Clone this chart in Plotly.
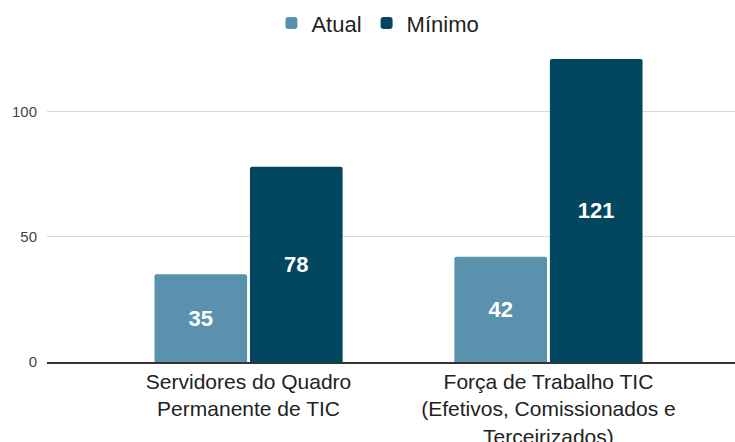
import plotly.graph_objects as go

categories = ["Servidores do Quadro<br>Permanente de TIC",
              "Força de Trabalho TIC<br>(Efetivos, Comissionados e<br>Terceirizados)"]
atual = [35, 42]
minimo = [78, 121]
series_names = ["Atual", "Mínimo"]
colors = ["#5a92ae", "#02465f"]
y_ticks = [0, 50, 100]

FONT = "Liberation Sans"

fig = go.Figure()
for name, vals, col in zip(series_names, [atual, minimo], colors):
    fig.add_trace(go.Bar(
        x=categories, y=vals, name=name,
        marker=dict(color=col, line=dict(width=0), cornerradius=2),
        text=[str(v) for v in vals], textposition="inside",
        insidetextanchor="middle",
        textfont=dict(family=FONT, size=22, color="white", weight="bold"),
        textangle=0,
    ))

fig.update_layout(
    width=735, height=442,
    margin=dict(l=47, r=0, t=49, b=80, autoexpand=False),
    paper_bgcolor="white", plot_bgcolor="white",
    barmode="group", bargap=0.363, bargroupgap=0.03,
    font=dict(family=FONT, color="#222222"),
    legend=dict(orientation="h", x=0.481, xanchor="center", y=0.995, yref="container",
                yanchor="top", font=dict(family=FONT, size=22, color="#222222"),
                tracegroupgap=0),
    showlegend=True,
    uniformtext=dict(mode=False),
)
fig.update_xaxes(
    type="category", range=[-0.672, 1.622], automargin=False,
    showline=True, linecolor="#333333", linewidth=1.5,
    tickfont=dict(family=FONT, size=21, color="#222222"), ticks="", showgrid=False,
)
fig.update_yaxes(
    range=[0, 125], tickvals=y_ticks, ticktext=[str(t) for t in y_ticks], automargin=False,
    showgrid=True, gridcolor="#d9d9d9", gridwidth=1, zeroline=False,
    tickfont=dict(family=FONT, size=15, color="#444444"), ticks="", ticklabelstandoff=9,
    showline=False,
)
fig.write_html("out.html", config={"displayModeBar": False},
               post_script="document.body.style.margin='0';document.body.style.overflow='hidden';")
